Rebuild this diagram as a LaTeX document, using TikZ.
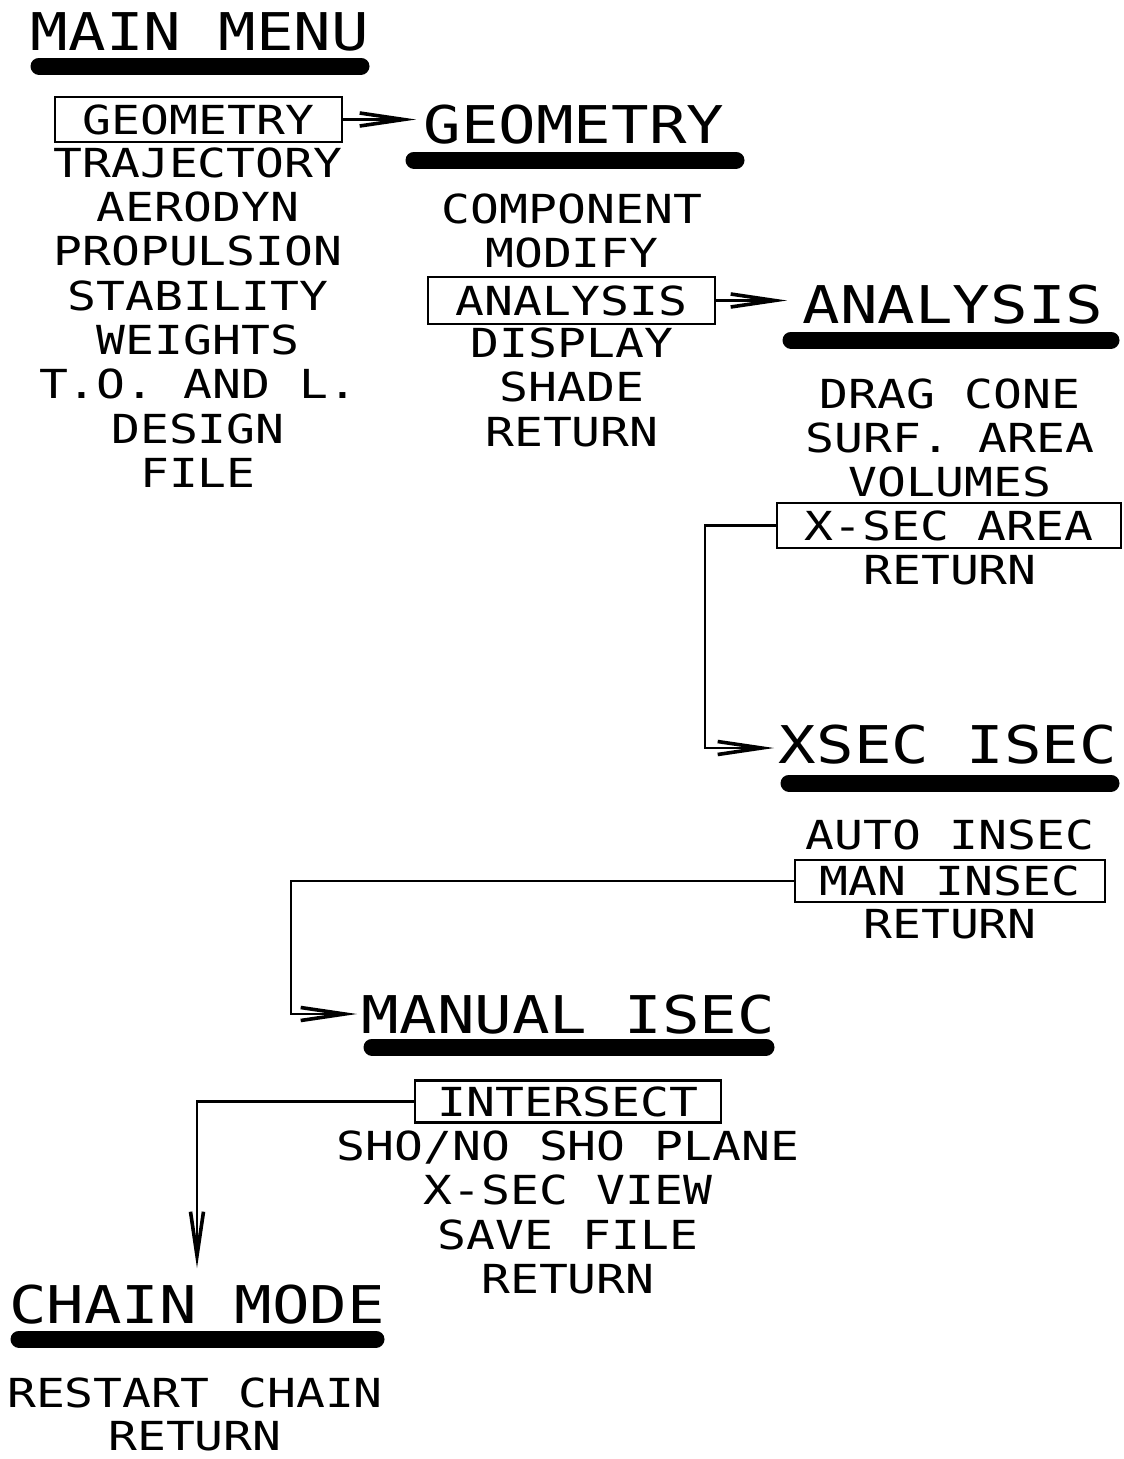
\documentclass[tikz,border=0pt]{standalone}
\usepackage{fontspec}
\usetikzlibrary{arrows.meta}
\newfontfamily\menumono[FakeStretch=1.2]{DejaVu Sans Mono}
\newcommand{\itemfnt}{\menumono\fontsize{40}{40}\selectfont}
\newcommand{\titlefnt}{\menumono\fontsize{52}{52}\selectfont}
\tikzset{
  item/.style={font=\itemfnt, inner sep=0pt, text height=29.2pt, text depth=0pt, anchor=center},
  boxitem/.style={item, draw, line width=2.4pt},
  menutitle/.style={font=\titlefnt, inner sep=0pt, anchor=base},
  bar/.style={line width=17pt, line cap=round},
  conn/.style={line width=2.6pt, -{Straight Barb[length=44pt,width=13pt,line width=3.6pt]}},
}
\begin{document}
\begin{tikzpicture}[x=1pt,y=-1pt]
\path[use as bounding box, fill=white] (0,0) rectangle (1124,1459);

% ---------- MAIN MENU ----------
\node[menutitle] (tmain) at (200,50) {MAIN MENU};
\draw[bar] (39,66) -- (361,66);
\node[boxitem, minimum width=287pt, minimum height=45pt] (b1) at (198.5,119.5) {GEOMETRY};
\node[item] (m2) at (198,162.7) {TRAJECTORY};
\node[item] (m3) at (198,207.0) {AERODYN};
\node[item] (m4) at (198,251.3) {PROPULSION};
\node[item] (m5) at (198,295.6) {STABILITY};
\node[item] (m6) at (198,339.9) {WEIGHTS};
\node[item] (m7) at (198,384.2) {T.O. AND L.};
\node[item] (m8) at (198,428.5) {DESIGN};
\node[item] (m9) at (198,472.8) {FILE};

% ---------- GEOMETRY ----------
\node[menutitle] (tgeom) at (574,143) {GEOMETRY};
\draw[bar] (414,160) -- (736,160);
\node[item] (g1) at (572,208.5) {COMPONENT};
\node[item] (g2) at (572,253.0) {MODIFY};
\node[boxitem, minimum width=287pt, minimum height=47pt] (b2) at (571.5,300.5) {ANALYSIS};
\node[item] (g4) at (572,342.5) {DISPLAY};
\node[item] (g5) at (572,387.0) {SHADE};
\node[item] (g6) at (572,431.5) {RETURN};

% ---------- ANALYSIS ----------
\node[menutitle] (tanal) at (953,323) {ANALYSIS};
\draw[bar] (791,340) -- (1111,340);
\node[item] (a1) at (950,393.4) {DRAG CONE};
\node[item] (a2) at (950,437.4) {SURF. AREA};
\node[item] (a3) at (950,481.4) {VOLUMES};
\node[boxitem, minimum width=344pt, minimum height=45pt] (b3) at (949,525.5) {X-SEC AREA};
\node[item] (a5) at (950,569.4) {RETURN};

% ---------- XSEC ISEC ----------
\node[menutitle] (txsec) at (948,763) {XSEC ISEC};
\draw[bar] (789,783) -- (1111,783);
\node[item] (x1) at (950,835) {AUTO INSEC};
\node[boxitem, minimum width=310pt, minimum height=42pt] (b4) at (950,881) {MAN INSEC};
\node[item] (x3) at (950,923.5) {RETURN};

% ---------- MANUAL ISEC ----------
\node[menutitle] (tman) at (568.5,1033) {MANUAL ISEC};
\draw[bar] (372,1047) -- (766,1047);
\node[boxitem, minimum width=306pt, minimum height=42pt] (b5) at (568,1101.5) {INTERSECT};
\node[item] (s2) at (568,1145.5) {SHO/NO SHO PLANE};
\node[item] (s3) at (568,1190.0) {X-SEC VIEW};
\node[item] (s4) at (568,1234.5) {SAVE FILE};
\node[item] (s5) at (568,1279.0) {RETURN};

% ---------- CHAIN MODE ----------
\node[menutitle] (tchain) at (197,1323) {CHAIN MODE};
\draw[bar] (19,1339) -- (376,1339);
\node[item] (c1) at (195,1392.5) {RESTART CHAIN};
\node[item] (c2) at (195,1436) {RETURN};

% ---------- connectors ----------
\coordinate (tip1) at (416,119.5);
\coordinate (tip2) at (787,300.5);
\coordinate (k3) at (705,525.5);
\coordinate (tip3) at (774,748);
\coordinate (k4) at (291,881);
\coordinate (tip4) at (357,1014);
\coordinate (k5) at (197,1101.5);
\coordinate (tip5) at (197,1268);

\draw[conn] (b1.east) -- (tip1);
\draw[conn] (b2.east) -- (tip2);
\draw[conn] (b3.west) -- (k3) -- (k3 |- tip3) -- (tip3);
\draw[conn] (b4.west) -- (k4) -- (k4 |- tip4) -- (tip4);
\draw[conn] (b5.west) -- (k5) -- (tip5);
\end{tikzpicture}
\end{document}
